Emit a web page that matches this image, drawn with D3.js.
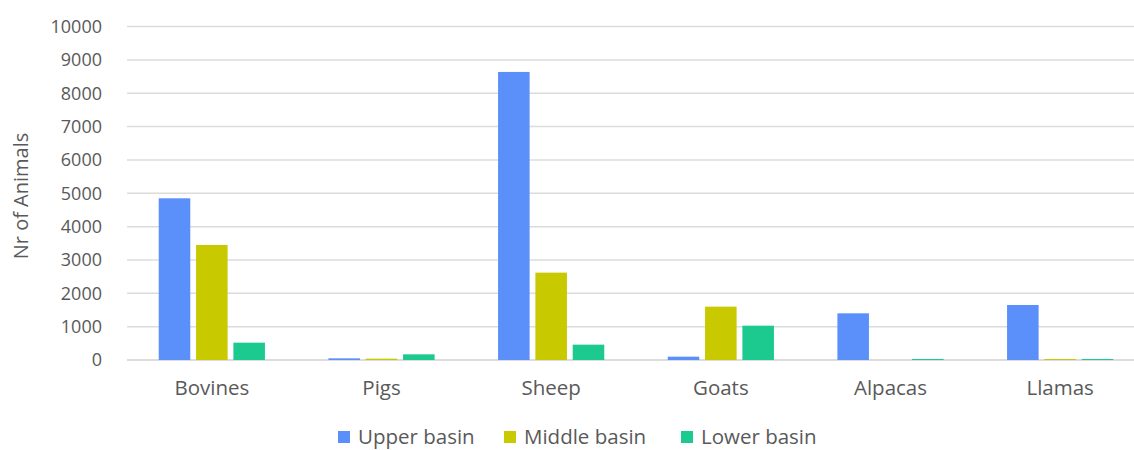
<!DOCTYPE html>
<html>
<head>
<meta charset="utf-8">
<script src="https://cdn.jsdelivr.net/npm/d3@7"></script>
<style>
  html, body { margin: 0; padding: 0; background: #ffffff; }
  svg { display: block; }
  text { font-family: "Open Sans", "Liberation Sans", sans-serif; fill: #595959; }
</style>
</head>
<body>
<svg id="chart" width="1134" height="450"></svg>
<script>
// Livestock counts per river-basin section
const categories = ["Bovines", "Pigs", "Sheep", "Goats", "Alpacas", "Llamas"];
const seriesNames = ["Upper basin", "Middle basin", "Lower basin"];
const upperBasin  = [4850, 50, 8640, 100, 1400, 1650];
const middleBasin = [3450, 40, 2620, 1600, 0, 30];
const lowerBasin  = [520, 170, 460, 1030, 30, 30];
const yTicks = [0, 1000, 2000, 3000, 4000, 5000, 6000, 7000, 8000, 9000, 10000];
const colors = ["#5b8ff9", "#c9c900", "#1cc98f"];

const seriesValues = [upperBasin, middleBasin, lowerBasin];
const rows = categories.map((c, i) => ({
  category: c,
  values: seriesNames.map((s, j) => ({ series: s, idx: j, value: seriesValues[j][i] }))
}));

const svg = d3.select("#chart");
const plot = { left: 127, right: 1145, top: 26.6, bottom: 360 };

const x0 = d3.scaleBand().domain(categories).range([plot.left, plot.right]).paddingInner(0).paddingOuter(0);
const x1 = d3.scaleBand().domain(seriesNames).range([0, x0.bandwidth()]).paddingInner(0.155).paddingOuter(0.85);
const y = d3.scaleLinear().domain([0, 10000]).range([plot.bottom, plot.top]);

// Horizontal gridlines
svg.append("g")
  .selectAll("line")
  .data(yTicks)
  .join("line")
  .attr("x1", plot.left)
  .attr("x2", 1134)
  .attr("y1", d => y(d))
  .attr("y2", d => y(d))
  .attr("stroke", d => d === 0 ? "#d0d0d0" : "#dcdcdc")
  .attr("stroke-width", 1.5);

// Y axis tick labels
const yAxis = d3.axisLeft(y).tickValues(yTicks).tickSize(0).tickPadding(0).tickFormat(d3.format("d"));
svg.append("g")
  .attr("transform", `translate(102,0)`)
  .call(yAxis)
  .call(g => g.select(".domain").remove())
  .call(g => g.selectAll("text")
    .style("font-family", "'Open Sans', sans-serif")
    .style("font-size", "18px")
    .attr("fill", "#595959"));

// Bars
svg.append("g")
  .selectAll("g")
  .data(rows)
  .join("g")
  .attr("transform", d => `translate(${x0(d.category)},0)`)
  .selectAll("rect")
  .data(d => d.values)
  .join("rect")
  .attr("x", d => x1(d.series))
  .attr("width", x1.bandwidth())
  .attr("y", d => y(d.value))
  .attr("height", d => y(0) - y(d.value))
  .attr("fill", d => colors[d.idx]);

// Category labels
const xAxis = d3.axisBottom(x0).tickSize(0).tickPadding(0);
svg.append("g")
  .attr("transform", `translate(0,380)`)
  .call(xAxis)
  .call(g => g.select(".domain").remove())
  .call(g => g.selectAll("text")
    .style("font-family", "'Open Sans', sans-serif")
    .style("font-size", "20.5px")
    .attr("fill", "#595959"));

// Y axis title
svg.append("text")
  .attr("transform", `translate(28,196) rotate(-90)`)
  .attr("text-anchor", "middle")
  .style("font-size", "20px")
  .text("Nr of Animals");

// Legend
const legendX = [338, 504, 681];
const legend = svg.append("g").selectAll("g")
  .data(seriesNames)
  .join("g")
  .attr("transform", (d, i) => `translate(${legendX[i]},437)`);
legend.append("rect")
  .attr("x", 0).attr("y", -6).attr("width", 12).attr("height", 12)
  .attr("fill", (d, i) => colors[i]);
legend.append("text")
  .attr("x", 20).attr("y", 0).attr("dy", "0.35em")
  .style("font-size", "20.5px")
  .text(d => d);
</script>
</body>
</html>
